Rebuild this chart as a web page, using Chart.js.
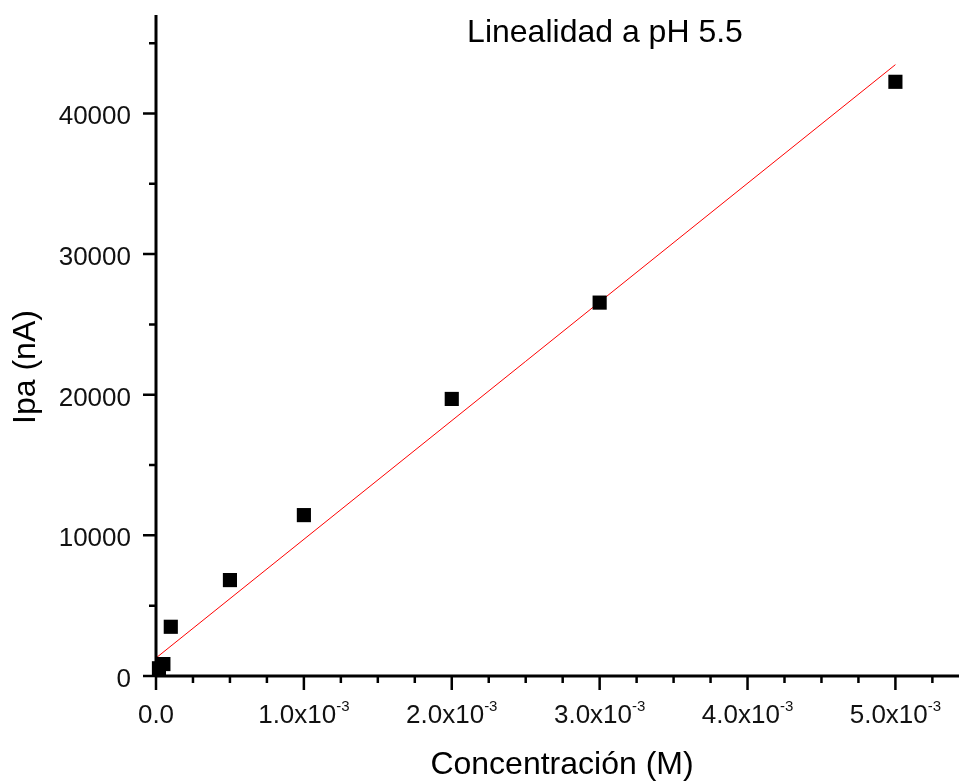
<!DOCTYPE html>
<html>
<head>
<meta charset="utf-8">
<script src="https://cdn.jsdelivr.net/npm/chart.js@4.4.0/dist/chart.umd.min.js"></script>
<style>
  html, body { margin: 0; padding: 0; background: #fff; }
  #wrap { width: 959px; height: 782px; }
</style>
</head>
<body>
<div id="wrap"><canvas id="chart" width="959" height="782"></canvas></div>
<script>
// measured points
const concentracion = [2e-5, 5e-5, 1e-4, 5e-4, 1e-3, 2e-3, 3e-3, 5e-3];
const ipa = [550, 850, 3500, 6820, 11440, 19700, 26550, 42250];

// linear fit (ends of the red line)
const ajusteX = [0, 5e-3];
const ajusteY = [1280, 43470];

// axes
const xMajor = [0, 1e-3, 2e-3, 3e-3, 4e-3, 5e-3];
const xMajorLabels = ['0.0', '1.0x10', '2.0x10', '3.0x10', '4.0x10', '5.0x10'];
const xExponent = ['', '-3', '-3', '-3', '-3', '-3'];
const xMinorStep = 0.25e-3;
const yMajor = [0, 10000, 20000, 30000, 40000];
const yMajorLabels = ['0', '10000', '20000', '30000', '40000'];
const yMinorStep = 5000;

const titulo = 'Linealidad a pH 5.5';
const xTitulo = 'Concentración (M)';
const yTitulo = 'Ipa (nA)';

const FONT = '"Liberation Sans", Arial, sans-serif';
Chart.defaults.font.family = FONT;

const decor = {
  id: 'decor',
  afterDraw(chart) {
    const ctx = chart.ctx;
    const xs = chart.scales.x, ys = chart.scales.y;
    const x0 = xs.getPixelForValue(0), y0 = ys.getPixelForValue(0);
    ctx.save();
    ctx.strokeStyle = '#000';
    ctx.lineCap = 'butt';

    // axis lines
    ctx.lineWidth = 3;
    ctx.beginPath();
    ctx.moveTo(x0, chart.chartArea.top);
    ctx.lineTo(x0, y0);
    ctx.moveTo(x0, y0);
    ctx.lineTo(chart.chartArea.right, y0);
    ctx.stroke();

    // x ticks
    ctx.lineWidth = 2.5;
    ctx.beginPath();
    for (let i = 0; xMinorStep * i <= xs.max; i++) {
      const px = xs.getPixelForValue(xMinorStep * i);
      const len = (i % 4 === 0) ? 14 : 7;
      ctx.moveTo(px, y0);
      ctx.lineTo(px, y0 + len);
    }
    // y ticks
    for (let i = 0; yMinorStep * i <= ys.max; i++) {
      const py = ys.getPixelForValue(yMinorStep * i);
      const len = (i % 2 === 0) ? 13 : 7;
      ctx.moveTo(x0, py);
      ctx.lineTo(x0 - len, py);
    }
    ctx.stroke();

    ctx.fillStyle = '#111';
    // y tick labels
    ctx.font = '26px ' + FONT;
    ctx.textAlign = 'right';
    ctx.textBaseline = 'alphabetic';
    yMajor.forEach((v, i) => {
      ctx.fillText(yMajorLabels[i], 131, ys.getPixelForValue(v) + 11);
    });

    // x tick labels with superscript
    xMajor.forEach((v, i) => {
      const px = xs.getPixelForValue(v);
      ctx.font = '26px ' + FONT;
      const w1 = ctx.measureText(xMajorLabels[i]).width;
      ctx.font = '15px ' + FONT;
      const w2 = xExponent[i] ? ctx.measureText(xExponent[i]).width : 0;
      const start = px - (w1 + w2) / 2;
      ctx.font = '26px ' + FONT;
      ctx.textAlign = 'left';
      ctx.fillText(xMajorLabels[i], start, 723);
      if (xExponent[i]) {
        ctx.font = '15px ' + FONT;
        ctx.fillText(xExponent[i], start + w1, 711);
      }
    });

    // titles
    ctx.fillStyle = '#000';
    ctx.font = '32px ' + FONT;
    ctx.textAlign = 'center';
    ctx.fillText(titulo, 605, 42);
    ctx.fillText(xTitulo, 562, 774);
    ctx.translate(35, 367);
    ctx.rotate(-Math.PI / 2);
    ctx.fillText(yTitulo, 0, 0);
    ctx.restore();
  }
};

new Chart(document.getElementById('chart'), {
  type: 'scatter',
  data: {
    datasets: [
      {
        data: concentracion.map((c, i) => ({ x: c, y: ipa[i] })),
        pointStyle: 'rect',
        pointRadius: 10,
        backgroundColor: '#000',
        borderWidth: 0,
        clip: false
      },
      {
        data: ajusteX.map((c, i) => ({ x: c, y: ajusteY[i] })),
        showLine: true,
        borderColor: '#ff0000',
        borderWidth: 1,
        pointRadius: 0
      }
    ]
  },
  options: {
    responsive: false,
    animation: false,
    layout: { autoPadding: false, padding: { top: 15, right: 0, bottom: 0, left: 0 } },
    plugins: {
      legend: { display: false },
      tooltip: { enabled: false }
    },
    scales: {
      x: {
        type: 'linear',
        min: 0,
        max: 5.43e-3,
        afterFit: s => { s.height = 106; },
        grid: { display: false },
        border: { display: false },
        ticks: { display: false }
      },
      y: {
        min: 0,
        max: 47000,
        afterFit: s => { s.width = 156; },
        grid: { display: false },
        border: { display: false },
        ticks: { display: false }
      }
    }
  },
  plugins: [decor]
});
</script>
</body>
</html>
